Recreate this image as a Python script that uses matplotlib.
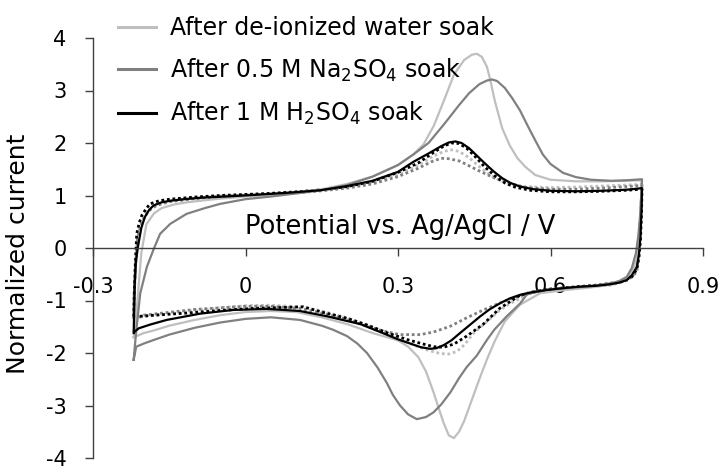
import matplotlib

matplotlib.use("Agg")
import matplotlib.pyplot as plt

plt.rcParams["axes.unicode_minus"] = False

# Cyclic voltammograms, normalized current vs potential (V vs Ag/AgCl).
# Each loop: anodic sweep -0.22 -> 0.78 V, then cathodic sweep back.

water_fwd_E = [-0.22, -0.215, -0.21, -0.205, -0.195, -0.18, -0.165, -0.14, -0.115, -0.08,
               -0.05, 0.0, 0.05, 0.10, 0.15, 0.20, 0.25, 0.30, 0.33, 0.35, 0.37, 0.39,
               0.41, 0.43, 0.445, 0.455, 0.465, 0.475, 0.482, 0.49, 0.505, 0.52, 0.535,
               0.55, 0.57, 0.60, 0.65, 0.70, 0.75, 0.78]
water_fwd_I = [-1.70, -1.30, -0.70, -0.10, 0.45, 0.66, 0.76, 0.83, 0.87, 0.91,
               0.94, 0.98, 1.01, 1.06, 1.12, 1.22, 1.36, 1.58, 1.78, 1.97, 2.32, 2.80,
               3.30, 3.58, 3.68, 3.70, 3.64, 3.45, 3.18, 2.82, 2.28, 1.95, 1.71,
               1.55, 1.39, 1.30, 1.27, 1.27, 1.28, 1.29]
water_rev_E = [0.78, 0.778, 0.775, 0.77, 0.76, 0.745, 0.72, 0.68, 0.63, 0.58, 0.54,
               0.51, 0.49, 0.475, 0.46, 0.445, 0.43, 0.42, 0.41, 0.40, 0.39, 0.38,
               0.37, 0.355, 0.34, 0.32, 0.30, 0.25, 0.20, 0.15, 0.10, 0.05, 0.0,
               -0.05, -0.10, -0.15, -0.18, -0.20, -0.22]
water_rev_I = [1.29, 0.90, 0.30, -0.20, -0.45, -0.62, -0.70, -0.75, -0.80, -0.86, -1.08,
               -1.40, -1.78, -2.12, -2.50, -2.90, -3.30, -3.50, -3.62, -3.57, -3.34, -3.05,
               -2.75, -2.35, -2.08, -1.88, -1.76, -1.62, -1.45, -1.32, -1.22, -1.20, -1.22,
               -1.28, -1.37, -1.48, -1.57, -1.62, -1.70]

na2so4_fwd_E = [-0.22, -0.218, -0.214, -0.207, -0.194, -0.181, -0.168, -0.148, -0.116,
                -0.08, -0.05, 0.0, 0.05, 0.10, 0.15, 0.20, 0.25, 0.30, 0.33, 0.36, 0.39,
                0.42, 0.44, 0.46, 0.475, 0.485, 0.495, 0.51, 0.525, 0.54, 0.555, 0.57,
                0.585, 0.60, 0.625, 0.65, 0.68, 0.72, 0.75, 0.78]
na2so4_fwd_I = [-2.13, -1.90, -1.49, -0.86, -0.36, -0.03, 0.27, 0.46, 0.65,
                0.76, 0.84, 0.93, 0.98, 1.04, 1.10, 1.20, 1.36, 1.58, 1.78, 2.00, 2.35,
                2.72, 2.95, 3.12, 3.19, 3.21, 3.18, 3.05, 2.85, 2.62, 2.33, 2.05,
                1.78, 1.60, 1.43, 1.35, 1.30, 1.28, 1.29, 1.31]
na2so4_rev_E = [0.78, 0.777, 0.773, 0.768, 0.76, 0.75, 0.735, 0.72, 0.684, 0.65, 0.619,
                0.59, 0.554, 0.54, 0.514, 0.49, 0.475, 0.455, 0.435, 0.42, 0.403, 0.385,
                0.37, 0.355, 0.337, 0.32, 0.304, 0.29, 0.278, 0.26, 0.239, 0.22, 0.20,
                0.173, 0.15, 0.107, 0.05, 0.0, -0.05, -0.10, -0.15, -0.18, -0.20,
                -0.215, -0.22]
na2so4_rev_I = [1.31, 0.70, 0.25, -0.10, -0.38, -0.55, -0.63, -0.67, -0.72, -0.75, -0.77,
                -0.80, -0.88, -1.06, -1.30, -1.55, -1.75, -2.05, -2.27, -2.48, -2.75, -2.98,
                -3.13, -3.22, -3.26, -3.17, -3.00, -2.80, -2.57, -2.28, -2.00, -1.82, -1.68,
                -1.56, -1.48, -1.37, -1.32, -1.35, -1.42, -1.52, -1.65, -1.75, -1.82,
                -1.88, -2.13]

h2so4_fwd_E = [-0.22, -0.219, -0.218, -0.216, -0.212, -0.205, -0.198, -0.19, -0.181,
               -0.165, -0.148, -0.12, -0.083, -0.04, 0.016, 0.08, 0.147, 0.20, 0.25,
               0.30, 0.33, 0.36, 0.385, 0.40, 0.413, 0.425, 0.44, 0.455, 0.47, 0.488,
               0.505, 0.521, 0.54, 0.566, 0.60, 0.65, 0.70, 0.75, 0.78]
h2so4_fwd_I = [-1.62, -1.20, -0.70, -0.30, 0.0, 0.38, 0.59, 0.72, 0.81,
               0.87, 0.90, 0.93, 0.96, 0.98, 1.01, 1.05, 1.10, 1.18, 1.28,
               1.45, 1.64, 1.80, 1.94, 2.01, 2.03, 2.00, 1.90, 1.76, 1.62, 1.46,
               1.33, 1.24, 1.17, 1.12, 1.09, 1.08, 1.09, 1.11, 1.14]
h2so4_rev_E = [0.78, 0.779, 0.777, 0.774, 0.77, 0.76, 0.75, 0.735, 0.718, 0.69, 0.652,
               0.62, 0.593, 0.565, 0.541, 0.52, 0.501, 0.48, 0.462, 0.442, 0.422, 0.405,
               0.39, 0.375, 0.363, 0.345, 0.324, 0.30, 0.27, 0.226, 0.16, 0.107, 0.042,
               -0.024, -0.089, -0.155, -0.188, -0.21, -0.219]
h2so4_rev_I = [1.14, 0.70, 0.21, -0.12, -0.36, -0.52, -0.61, -0.66, -0.69, -0.72, -0.74,
               -0.77, -0.80, -0.84, -0.89, -0.96, -1.05, -1.17, -1.30, -1.46, -1.62, -1.76,
               -1.85, -1.91, -1.92, -1.89, -1.82, -1.74, -1.62, -1.45, -1.30, -1.20, -1.16,
               -1.18, -1.25, -1.37, -1.46, -1.53, -1.60]

# dotted loops: the same electrodes before soaking
ref_water_fwd_E = [-0.22, -0.219, -0.216, -0.212, -0.206, -0.198, -0.19, -0.175, -0.15,
                   -0.10, -0.05, 0.0, 0.05, 0.10, 0.15, 0.20, 0.25, 0.30, 0.34, 0.37,
                   0.39, 0.405, 0.42, 0.44, 0.46, 0.48, 0.50, 0.52, 0.55, 0.60, 0.65,
                   0.70, 0.75, 0.78]
ref_water_fwd_I = [-1.33, -0.90, -0.30, 0.22, 0.45, 0.62, 0.73, 0.83, 0.89,
                   0.95, 0.99, 1.01, 1.03, 1.06, 1.10, 1.16, 1.25, 1.40, 1.58, 1.75,
                   1.84, 1.87, 1.84, 1.72, 1.55, 1.40, 1.29, 1.22, 1.17, 1.15, 1.16,
                   1.18, 1.20, 1.21]
ref_water_rev_E = [0.78, 0.777, 0.773, 0.768, 0.76, 0.745, 0.72, 0.65, 0.60, 0.56, 0.541,
                   0.52, 0.501, 0.475, 0.449, 0.43, 0.416, 0.40, 0.383, 0.36, 0.34, 0.304,
                   0.27, 0.239, 0.20, 0.15, 0.107, 0.05, 0.0, -0.05, -0.10, -0.15,
                   -0.20, -0.22]
ref_water_rev_I = [1.21, 0.60, 0.10, -0.25, -0.50, -0.63, -0.70, -0.75, -0.79, -0.85, -0.96,
                   -1.06, -1.18, -1.40, -1.62, -1.85, -1.97, -2.02, -2.01, -1.95, -1.88, -1.75,
                   -1.60, -1.46, -1.33, -1.20, -1.12, -1.09, -1.10, -1.14, -1.19, -1.25,
                   -1.31, -1.33]

ref_na2so4_fwd_E = [-0.22, -0.219, -0.216, -0.212, -0.206, -0.198, -0.19, -0.175, -0.15,
                    -0.10, -0.05, 0.0, 0.05, 0.10, 0.15, 0.20, 0.25, 0.30, 0.34, 0.365,
                    0.385, 0.40, 0.42, 0.435, 0.455, 0.475, 0.495, 0.514, 0.535, 0.554,
                    0.60, 0.65, 0.70, 0.75, 0.78]
ref_na2so4_fwd_I = [-1.35, -0.90, -0.30, 0.20, 0.43, 0.60, 0.71, 0.81, 0.88,
                    0.94, 0.98, 1.00, 1.02, 1.05, 1.09, 1.14, 1.22, 1.36, 1.52, 1.64,
                    1.71, 1.70, 1.66, 1.59, 1.49, 1.40, 1.31, 1.25, 1.19, 1.15,
                    1.12, 1.12, 1.14, 1.17, 1.19]
ref_na2so4_rev_E = [0.78, 0.777, 0.773, 0.77, 0.76, 0.75, 0.72, 0.65, 0.60, 0.56, 0.534,
                    0.50, 0.468, 0.435, 0.403, 0.37, 0.344, 0.304, 0.27, 0.239, 0.20,
                    0.15, 0.107, 0.05, 0.0, -0.10, -0.20, -0.22]
ref_na2so4_rev_I = [1.19, 0.55, 0.0, -0.45, -0.55, -0.62, -0.70, -0.75, -0.79, -0.84, -0.93,
                    -1.05, -1.18, -1.33, -1.49, -1.60, -1.65, -1.65, -1.58, -1.49, -1.36,
                    -1.24, -1.15, -1.11, -1.11, -1.17, -1.28, -1.35]

ref_h2so4_fwd_E = [-0.22, -0.219, -0.217, -0.214, -0.209, -0.204, -0.196, -0.188, -0.17,
                   -0.148, -0.10, -0.05, 0.0, 0.048, 0.10, 0.15, 0.20, 0.25, 0.30, 0.34,
                   0.37, 0.39, 0.405, 0.42, 0.435, 0.45, 0.47, 0.49, 0.51, 0.53, 0.56,
                   0.60, 0.65, 0.70, 0.75, 0.78]
ref_h2so4_fwd_I = [-1.30, -0.90, -0.36, 0.27, 0.48, 0.62, 0.74, 0.84, 0.90,
                   0.93, 0.97, 1.00, 1.02, 1.04, 1.07, 1.11, 1.17, 1.27, 1.44, 1.62,
                   1.82, 1.94, 2.00, 1.99, 1.90, 1.76, 1.55, 1.38, 1.24, 1.16, 1.10,
                   1.07, 1.07, 1.08, 1.10, 1.12]
ref_h2so4_rev_E = [0.78, 0.779, 0.777, 0.774, 0.77, 0.76, 0.74, 0.70, 0.65, 0.59, 0.54,
                   0.50, 0.468, 0.435, 0.41, 0.39, 0.37, 0.35, 0.32, 0.28, 0.24, 0.20,
                   0.15, 0.114, 0.016, -0.05, -0.116, -0.18, -0.207, -0.22]
ref_h2so4_rev_I = [1.12, 0.65, 0.15, -0.18, -0.40, -0.55, -0.64, -0.70, -0.74, -0.79, -0.90,
                   -1.15, -1.45, -1.68, -1.83, -1.89, -1.88, -1.83, -1.75, -1.62, -1.47, -1.34,
                   -1.22, -1.12, -1.15, -1.19, -1.24, -1.28, -1.30, -1.31]

x_ticks = [-0.3, 0, 0.3, 0.6, 0.9]
x_tick_labels = ["-0.3", "0", "0.3", "0.6", "0.9"]
y_ticks = [-4, -3, -2, -1, 0, 1, 2, 3, 4]

LIGHT = "#bfbfbf"
MID = "#808080"
DARK = "#000000"
AXIS = "#404040"


def loop(fwd_E, fwd_I, rev_E, rev_I):
    return fwd_E + rev_E, fwd_I + rev_I


fig = plt.figure(figsize=(7.24, 4.70), dpi=100)
ax = fig.add_axes([93 / 724, 12 / 470, 610 / 724, 420 / 470])

dotted = dict(linestyle=(0, (1, 1)), linewidth=2.0, dash_capstyle="butt")
for args, color in [
    ((ref_water_fwd_E, ref_water_fwd_I, ref_water_rev_E, ref_water_rev_I), LIGHT),
    ((ref_na2so4_fwd_E, ref_na2so4_fwd_I, ref_na2so4_rev_E, ref_na2so4_rev_I), MID),
    ((ref_h2so4_fwd_E, ref_h2so4_fwd_I, ref_h2so4_rev_E, ref_h2so4_rev_I), DARK),
]:
    E, I = loop(*args)
    ax.plot(E, I, color=color, **dotted)

solid = dict(linewidth=1.6, solid_joinstyle="round")
E, I = loop(water_fwd_E, water_fwd_I, water_rev_E, water_rev_I)
ax.plot(E, I, color=LIGHT, label="After de-ionized water soak", **solid)
E, I = loop(na2so4_fwd_E, na2so4_fwd_I, na2so4_rev_E, na2so4_rev_I)
ax.plot(E, I, color=MID, label="After 0.5 M Na$_2$SO$_4$ soak", **solid)
E, I = loop(h2so4_fwd_E, h2so4_fwd_I, h2so4_rev_E, h2so4_rev_I)
ax.plot(E, I, color=DARK, label="After 1 M H$_2$SO$_4$ soak", **solid)

ax.set_xlim(-0.3, 0.9)
ax.set_ylim(-4, 4)
ax.spines["top"].set_visible(False)
ax.spines["right"].set_visible(False)
ax.spines["bottom"].set_position(("data", 0))
for side in ("left", "bottom"):
    ax.spines[side].set_color(AXIS)
    ax.spines[side].set_linewidth(1.0)

ax.set_xticks(x_ticks)
ax.set_xticklabels(x_tick_labels)
ax.set_yticks(y_ticks)
ax.tick_params(axis="both", direction="out", length=6, width=1.0, color=AXIS,
               labelsize=15, labelcolor="black")
ax.tick_params(axis="x", pad=15)
ax.tick_params(axis="y", pad=13)

ax.set_xlabel("Potential vs. Ag/AgCl / V", fontsize=18.5)
ax.xaxis.set_label_coords(0.503, 0.551)
ax.xaxis.label.set_va("center")
ax.set_ylabel("Normalized current", fontsize=18)
ax.yaxis.set_label_coords(-0.123, 0.487)
ax.yaxis.label.set_va("center")

leg = ax.legend(loc="upper left", bbox_to_anchor=(118 / 724, 1 - 16 / 470),
                bbox_transform=fig.transFigure, frameon=False, fontsize=17,
                handlelength=1.6, handletextpad=0.6, labelspacing=0.7,
                borderpad=0, borderaxespad=0)
for handle in leg.legend_handles:
    handle.set_linewidth(2.2)

fig.savefig("out.png", dpi=100)
